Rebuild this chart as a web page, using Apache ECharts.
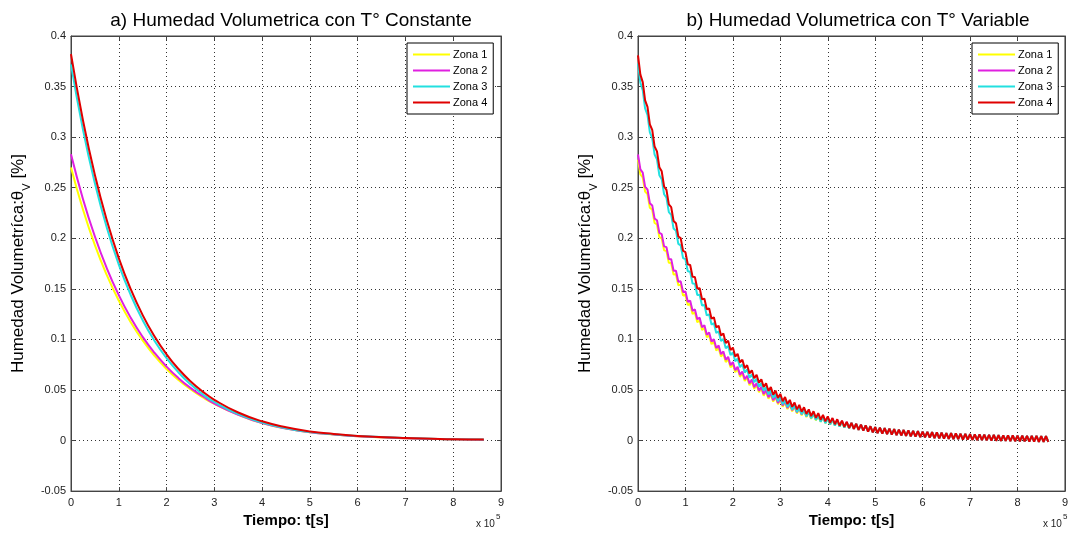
<!DOCTYPE html>
<html>
<head>
<meta charset="utf-8">
<script src="https://cdn.jsdelivr.net/npm/echarts@6/dist/echarts.min.js"></script>
<style>
html,body{margin:0;padding:0;background:#fff;}
#chart{width:1071px;height:533px;}
</style>
</head>
<body>
<div id="chart"></div>
<script>
// ---- tick labels / names ----
const xTicks = [0, 1, 2, 3, 4, 5, 6, 7, 8, 9];           // x 10^5 s
const yTicks = [-0.05, 0, 0.05, 0.1, 0.15, 0.2, 0.25, 0.3, 0.35, 0.4];
const zoneNames = ['Zona 1', 'Zona 2', 'Zona 3', 'Zona 4'];
const titleA = 'a) Humedad Volumetrica con T° Constante';
const titleB = 'b) Humedad Volumetrica con T° Variable';

// ---- panel a: constant temperature (time in 10^5 s) ----
const tA = [0,0.25,0.5,0.75,1,1.25,1.5,1.75,2,2.25,2.5,2.75,3,3.5,4,4.5,5,5.5,6,7,8,8.64];
const zona1A = [0.2700,0.2284,0.1932,0.1635,0.1383,0.1170,0.0990,0.0837,0.0708,0.0599,0.0507,0.0429,0.0363,0.0256,0.0172,0.0118,0.0082,0.0059,0.0043,0.0023,0.0012,0.0008];
const zona2A = [0.2830,0.2389,0.2017,0.1703,0.1438,0.1214,0.1025,0.0866,0.0731,0.0617,0.0521,0.0440,0.0365,0.0255,0.0172,0.0119,0.0082,0.0060,0.0043,0.0023,0.0012,0.0008];
const zona3A = [0.3720,0.3076,0.2544,0.2104,0.1740,0.1439,0.1190,0.0984,0.0814,0.0673,0.0557,0.0460,0.0381,0.0261,0.0178,0.0122,0.0084,0.0061,0.0044,0.0024,0.0013,0.0009];
const zona4A = [0.3820,0.3167,0.2625,0.2177,0.1804,0.1496,0.1240,0.1028,0.0852,0.0707,0.0586,0.0486,0.0403,0.0277,0.0190,0.0131,0.0090,0.0065,0.0046,0.0025,0.0013,0.0009];

// ---- panel b: variable temperature, sampled every 0.05 x 10^5 s ----
const stepB = 0.05;
const zona1B = [
0.2778,0.2632,0.2601,0.2461,0.2436,0.2301,0.2281,0.2151,0.2136,0.2011,
0.2000,0.1880,0.1873,0.1757,0.1755,0.1642,0.1644,0.1535,0.1540,0.1434,
0.1442,0.1340,0.1351,0.1252,0.1266,0.1170,0.1187,0.1093,0.1112,0.1021,
0.1042,0.0953,0.0977,0.0890,0.0916,0.0831,0.0859,0.0776,0.0806,0.0724,
0.0755,0.0676,0.0709,0.0630,0.0665,0.0588,0.0624,0.0548,0.0586,0.0511,
0.0550,0.0477,0.0516,0.0444,0.0485,0.0414,0.0455,0.0385,0.0428,0.0359,
0.0402,0.0334,0.0378,0.0311,0.0356,0.0289,0.0334,0.0268,0.0315,0.0249,
0.0296,0.0232,0.0279,0.0215,0.0263,0.0199,0.0248,0.0185,0.0234,0.0171,
0.0220,0.0159,0.0209,0.0148,0.0198,0.0137,0.0189,0.0128,0.0180,0.0120];
const zona2B = [
0.2828,0.2681,0.2649,0.2508,0.2482,0.2346,0.2325,0.2194,0.2178,0.2053,
0.2041,0.1920,0.1912,0.1795,0.1792,0.1679,0.1679,0.1570,0.1574,0.1468,
0.1475,0.1372,0.1383,0.1283,0.1296,0.1199,0.1215,0.1121,0.1139,0.1047,
0.1068,0.0979,0.1002,0.0914,0.0940,0.0854,0.0881,0.0798,0.0827,0.0745,
0.0776,0.0696,0.0728,0.0649,0.0683,0.0606,0.0641,0.0565,0.0602,0.0528,
0.0566,0.0492,0.0531,0.0459,0.0499,0.0428,0.0469,0.0399,0.0441,0.0371,
0.0414,0.0346,0.0390,0.0322,0.0367,0.0300,0.0345,0.0279,0.0325,0.0259,
0.0306,0.0241,0.0288,0.0224,0.0272,0.0208,0.0256,0.0193,0.0241,0.0178,
0.0228,0.0166,0.0216,0.0154,0.0204,0.0142,0.0193,0.0132,0.0184,0.0123];
const zona3B = [
0.3728,0.3538,0.3464,0.3283,0.3219,0.3047,0.2991,0.2828,0.2780,0.2624,
0.2584,0.2435,0.2402,0.2259,0.2232,0.2096,0.2075,0.1945,0.1929,0.1804,
0.1793,0.1673,0.1668,0.1552,0.1551,0.1439,0.1442,0.1335,0.1341,0.1237,
0.1247,0.1147,0.1160,0.1063,0.1080,0.0985,0.1005,0.0913,0.0935,0.0846,
0.0870,0.0784,0.0810,0.0726,0.0754,0.0672,0.0703,0.0622,0.0655,0.0576,
0.0610,0.0533,0.0568,0.0493,0.0530,0.0456,0.0494,0.0421,0.0461,0.0389,
0.0430,0.0359,0.0401,0.0332,0.0375,0.0306,0.0350,0.0282,0.0327,0.0260,
0.0306,0.0239,0.0286,0.0220,0.0267,0.0203,0.0250,0.0186,0.0234,0.0171,
0.0220,0.0159,0.0209,0.0147,0.0198,0.0137,0.0188,0.0128,0.0180,0.0120];
const zona4B = [
0.3808,0.3618,0.3544,0.3364,0.3299,0.3127,0.3071,0.2907,0.2859,0.2703,
0.2662,0.2512,0.2478,0.2335,0.2308,0.2171,0.2149,0.2017,0.2001,0.1875,
0.1863,0.1742,0.1735,0.1619,0.1616,0.1504,0.1506,0.1397,0.1403,0.1298,
0.1307,0.1205,0.1218,0.1119,0.1135,0.1039,0.1058,0.0965,0.0986,0.0896,
0.0919,0.0831,0.0857,0.0772,0.0799,0.0716,0.0745,0.0664,0.0695,0.0616,
0.0649,0.0571,0.0606,0.0529,0.0565,0.0490,0.0528,0.0454,0.0493,0.0420,
0.0461,0.0389,0.0430,0.0360,0.0402,0.0333,0.0376,0.0308,0.0352,0.0285,
0.0329,0.0263,0.0308,0.0242,0.0289,0.0224,0.0271,0.0206,0.0254,0.0190,
0.0238,0.0175,0.0223,0.0161,0.0210,0.0147,0.0197,0.0135,0.0185,0.0124];
// from t = 4.5 on, all four zones coincide (only the red trace is visible)
const tailB = [
0.0175,0.0115,0.0166,0.0106,0.0158,0.0098,0.0150,0.0089,0.0141,0.0081,
0.0133,0.0074,0.0128,0.0069,0.0123,0.0064,0.0118,0.0059,0.0113,0.0054,
0.0108,0.0050,0.0104,0.0046,0.0100,0.0042,0.0096,0.0038,0.0092,0.0034,
0.0088,0.0031,0.0085,0.0028,0.0082,0.0025,0.0080,0.0022,0.0077,0.0019,
0.0074,0.0017,0.0072,0.0015,0.0070,0.0013,0.0067,0.0010,0.0065,0.0008,
0.0063,0.0006,0.0061,0.0005,0.0060,0.0003,0.0058,0.0001,0.0056,0.0000,
0.0055,-0.0002,0.0053,-0.0003,0.0052,-0.0004,0.0051,-0.0006,0.0050,-0.0007,
0.0049,-0.0008,0.0048,-0.0009,0.0047,-0.0010,0.0046,-0.0011,0.0045,-0.0012,
0.0044,-0.0012,0.0043,-0.0013];

const colors = ['#ffff00', '#e020e0', '#22e0e0', '#e00000'];
const FONT = '"Liberation Sans", Arial, Helvetica, sans-serif';

const pairsA = (vals) => vals.map((v, i) => [tA[i], v]);
const pairsB = (head) => head.concat(tailB).map((v, i) => [+(i * stepB).toFixed(2), v]);

const seriesA = [zona1A, zona2A, zona3A, zona4A];
const seriesB = [zona1B, zona2B, zona3B, zona4B];

const chart = echarts.init(document.getElementById('chart'), null, {renderer: 'canvas'});

function gridAxes(gi) {
  const xs = [
    {gridIndex: gi, type: 'value', min: xTicks[0], max: xTicks[xTicks.length - 1], interval: 1,
     position: 'bottom',
     axisLine: {show: true, onZero: false, lineStyle: {color: '#444', width: 1}},
     axisTick: {show: true, inside: true, length: 4, lineStyle: {color: '#444'}},
     axisLabel: {color: '#222', fontSize: 11, fontFamily: FONT, margin: 6},
     splitLine: {show: true, lineStyle: {color: '#333', type: [1, 3], width: 1}},
     name: 'Tiempo: t[s]', nameLocation: 'middle', nameGap: 16,
     nameTextStyle: {color: '#000', fontSize: 15, fontWeight: 'bold', fontFamily: FONT, verticalAlign: 'top'}},
    {gridIndex: gi, type: 'value', min: xTicks[0], max: xTicks[xTicks.length - 1], interval: 1,
     position: 'top',
     axisLine: {show: true, onZero: false, lineStyle: {color: '#444', width: 1}},
     axisTick: {show: true, inside: true, length: 4, lineStyle: {color: '#444'}},
     axisLabel: {show: false}, splitLine: {show: false}}
  ];
  const ys = [
    {gridIndex: gi, type: 'value', min: yTicks[0], max: yTicks[yTicks.length - 1], interval: 0.05,
     position: 'left',
     axisLine: {show: true, onZero: false, lineStyle: {color: '#444', width: 1}},
     axisTick: {show: true, inside: true, length: 4, lineStyle: {color: '#444'}},
     axisLabel: {color: '#222', fontSize: 11, fontFamily: FONT, margin: 5},
     splitLine: {show: true, lineStyle: {color: '#333', type: [1, 3], width: 1}},
     name: '{a|Humedad Volumetríca:θ}{s|V}{a| [%]}', nameLocation: 'middle', nameGap: 44, nameRotate: 90,
     nameTextStyle: {color: '#000', fontFamily: FONT,
       rich: {a: {fontSize: 17, fontFamily: FONT, color: '#000', lineHeight: 20, verticalAlign: 'bottom'},
              s: {fontSize: 11, fontFamily: FONT, color: '#000', lineHeight: 14, verticalAlign: 'bottom', padding: [0, 0, -5, 0]}}}},
    {gridIndex: gi, type: 'value', min: yTicks[0], max: yTicks[yTicks.length - 1], interval: 0.05,
     position: 'right',
     axisLine: {show: true, onZero: false, lineStyle: {color: '#444', width: 1}},
     axisTick: {show: true, inside: true, length: 4, lineStyle: {color: '#444'}},
     axisLabel: {show: false}, splitLine: {show: false}}
  ];
  return {xs, ys};
}

const a = gridAxes(0), b = gridAxes(1);

const series = [];
seriesA.forEach((vals, k) => series.push({
  name: zoneNames[k], type: 'line', xAxisIndex: 0, yAxisIndex: 0,
  data: pairsA(vals), showSymbol: false, symbol: 'none', smooth: 0.5,
  lineStyle: {color: colors[k], width: 2}, itemStyle: {color: colors[k]}, z: 2 + k
}));
seriesB.forEach((head, k) => series.push({
  name: zoneNames[k], type: 'line', xAxisIndex: 2, yAxisIndex: 2,
  data: pairsB(head), showSymbol: false, symbol: 'none', smooth: false,
  lineStyle: {color: colors[k], width: 2}, itemStyle: {color: colors[k]}, z: 2 + k
}));

const legendCommon = {
  orient: 'vertical', top: 43, data: zoneNames, icon: 'rect', itemWidth: 37, itemHeight: 2,
  itemGap: 5, padding: [6, 6, 6, 6], borderColor: '#000', borderWidth: 1, backgroundColor: '#fff',
  textStyle: {color: '#000', fontSize: 11, fontFamily: FONT, padding: [0, 0, 0, -2]}, selectedMode: false
};

chart.setOption({
  animation: false,
  backgroundColor: '#fff',
  title: [
    {text: titleA, left: 286, top: 6, textAlign: 'center',
     textStyle: {color: '#000', fontSize: 19, fontWeight: 'normal', fontFamily: FONT}},
    {text: titleB, left: 853, top: 6, textAlign: 'center',
     textStyle: {color: '#000', fontSize: 19, fontWeight: 'normal', fontFamily: FONT}}
  ],
  legend: [
    Object.assign({}, legendCommon, {left: 407}),
    Object.assign({}, legendCommon, {left: 972})
  ],
  grid: [
    {left: 71, right: 570, top: 36, bottom: 36, show: true, borderColor: '#444', borderWidth: 1, backgroundColor: '#fff'},
    {left: 638, right: 3, top: 36, bottom: 36, show: true, borderColor: '#444', borderWidth: 1, backgroundColor: '#fff'}
  ],
  xAxis: [a.xs[0], a.xs[1], b.xs[0], b.xs[1]],
  yAxis: [a.ys[0], a.ys[1], b.ys[0], b.ys[1]],
  series: series,
  graphic: [
    {type: 'text', left: 476, top: 519, style: {text: 'x 10', fill: '#222', font: '10px ' + FONT}},
    {type: 'text', left: 496, top: 513, style: {text: '5', fill: '#222', font: '8px ' + FONT}},
    {type: 'text', left: 1043, top: 519, style: {text: 'x 10', fill: '#222', font: '10px ' + FONT}},
    {type: 'text', left: 1063, top: 513, style: {text: '5', fill: '#222', font: '8px ' + FONT}}
  ]
});
</script>
</body>
</html>
